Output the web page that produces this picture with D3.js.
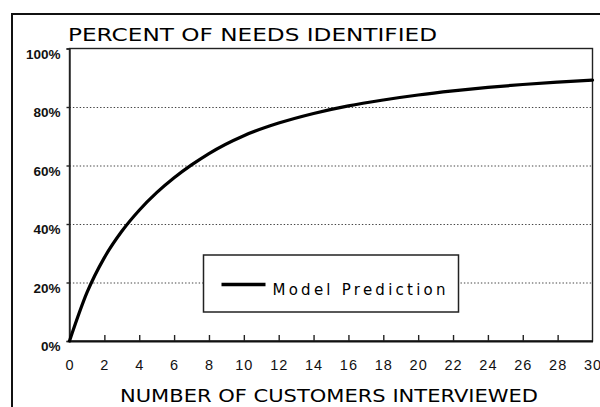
<!DOCTYPE html>
<html>
<head>
<meta charset="utf-8">
<script src="https://cdn.jsdelivr.net/npm/d3@7"></script>
<style>
  body { margin: 0; background: #fff; }
  svg { display: block; font-family: "DejaVu Sans", sans-serif; }
  .grid line { stroke: #444; stroke-width: 1.1; stroke-dasharray: 1.4,2; }
  .grid .domain { display: none; }
  .axis text { fill: #111; }
</style>
</head>
<body>
<svg id="chart"></svg>
<script>
// values
const customers = [0, 1, 2, 3, 4, 5, 6, 7, 8, 10, 12, 14, 16, 18, 20, 22, 24, 26, 28, 30];
const needsIdentified = [0, 16.5, 28.5, 37.5, 44.7, 50.7, 55.8, 60.2, 64.1, 70.2, 74.5, 77.8, 80.4, 82.4, 84.1, 85.5, 86.7, 87.7, 88.5, 89.2];
const xTicks = [0, 2, 4, 6, 8, 10, 12, 14, 16, 18, 20, 22, 24, 26, 28, 30];
const yTicks = [0, 20, 40, 60, 80, 100];
const gridTicks = [20, 40, 60, 80];
const seriesName = 'Model Prediction';
const chartTitle = 'PERCENT OF NEEDS IDENTIFIED';
const xTitle = 'NUMBER OF CUSTOMERS INTERVIEWED';

const width = 600, height = 407;
const margin = {top: 48.5, right: 7.5, bottom: 66, left: 69.5};
const innerW = width - margin.left - margin.right;
const innerH = height - margin.top - margin.bottom;

const data = customers.map((c, i) => ({x: c, y: needsIdentified[i]}));

const svg = d3.select('#chart')
    .attr('width', width)
    .attr('height', height);

// outer frame of the figure (runs off the page on the right and bottom)
svg.append('path')
    .attr('d', `M12,${height + 5}V14H${width + 5}`)
    .attr('fill', 'none')
    .attr('stroke', '#111')
    .attr('stroke-width', 2);

const chart = svg.append('g')
    .attr('transform', `translate(${margin.left},${margin.top})`);

const xScale = d3.scaleLinear().domain([0, 30]).range([0, innerW]);
const yScale = d3.scaleLinear().domain([0, 100]).range([innerH, 0]);

// dotted gridlines
chart.append('g')
    .attr('class', 'grid')
    .call(d3.axisLeft(yScale).tickValues(gridTicks).tickSize(-innerW).tickFormat(''));

// plot frame
chart.append('rect')
    .attr('width', innerW)
    .attr('height', innerH)
    .attr('fill', 'none')
    .attr('stroke', '#222')
    .attr('stroke-width', 1.4);

// y axis
const yAxis = chart.append('g')
    .attr('class', 'axis y-axis')
    .call(d3.axisLeft(yScale).tickValues(yTicks).tickSize(3).tickPadding(6).tickFormat(d => d + '%'));
yAxis.select('.domain').attr('stroke', '#222').attr('stroke-width', 1.4);
yAxis.selectAll('line').attr('stroke', '#222').attr('stroke-width', 1.4);
yAxis.selectAll('text')
    .attr('dy', '0.95em')
    .attr('y', -3)
    .style('font-size', '13.5px')
    .style('font-weight', 'bold');

// x axis: ticks point up into the plot
const xAxis = chart.append('g')
    .attr('class', 'axis x-axis')
    .attr('transform', `translate(0,${innerH})`)
    .call(d3.axisBottom(xScale).tickValues(xTicks).tickSize(0).tickPadding(19));
xAxis.select('.domain').attr('stroke', '#111').attr('stroke-width', 2);
xAxis.selectAll('.tick text')
    .style('font-size', '14.5px')
    .attr('letter-spacing', '1px');
xAxis.selectAll('.tick')
    .filter(d => d > 0 && d < 30)
    .append('line')
    .attr('y2', -6)
    .attr('stroke', '#222')
    .attr('stroke-width', 1.4);

// curve
const line = d3.line()
    .x(d => xScale(d.x))
    .y(d => yScale(d.y))
    .curve(d3.curveMonotoneX);

chart.append('path')
    .datum(data)
    .attr('fill', 'none')
    .attr('stroke', '#000')
    .attr('stroke-width', 3.2)
    .attr('stroke-linecap', 'round')
    .attr('d', line);

// legend
const legend = svg.append('g')
    .attr('transform', 'translate(203.5,255)');
legend.append('rect')
    .attr('width', 255)
    .attr('height', 57)
    .attr('fill', '#fff')
    .attr('stroke', '#222')
    .attr('stroke-width', 1.5);
legend.append('line')
    .attr('x1', 18).attr('x2', 62)
    .attr('y1', 29.5).attr('y2', 29.5)
    .attr('stroke', '#000')
    .attr('stroke-width', 3.5);
legend.append('text')
    .attr('x', 69)
    .attr('y', 40)
    .attr('textLength', 173)
    .attr('lengthAdjust', 'spacing')
    .style('font-size', '15px')
    .text(seriesName);

// titles
svg.append('text')
    .attr('x', 68)
    .attr('y', 41)
    .attr('textLength', 369)
    .attr('lengthAdjust', 'spacingAndGlyphs')
    .style('font-size', '18.5px')
    .text(chartTitle);

svg.append('text')
    .attr('x', 120)
    .attr('y', 402)
    .attr('textLength', 418)
    .attr('lengthAdjust', 'spacingAndGlyphs')
    .style('font-size', '17px')
    .text(xTitle);
</script>
</body>
</html>
